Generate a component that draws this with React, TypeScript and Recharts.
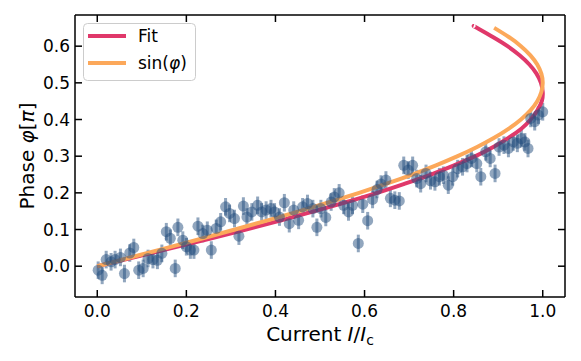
import React from 'react';
import { ComposedChart, Scatter, Line, XAxis, YAxis, ErrorBar, Legend } from 'recharts';

const FONT = '"DejaVu Sans", sans-serif';
const DOT = '#234e7d';
const FIT = '#e0386a';
const SIN = '#fca85a';

const currents = [
  0.002, 0.011, 0.020, 0.031, 0.040, 0.052, 0.061, 0.073, 0.082, 0.093,
  0.103, 0.114, 0.125, 0.135, 0.145, 0.155, 0.164, 0.175, 0.181, 0.192,
  0.200, 0.209, 0.217, 0.226, 0.237, 0.247, 0.256, 0.267, 0.277, 0.288,
  0.297, 0.308, 0.318, 0.328, 0.336, 0.347, 0.360, 0.369, 0.379, 0.390,
  0.398, 0.409, 0.420, 0.431, 0.441, 0.452, 0.461, 0.472, 0.484, 0.493,
  0.502, 0.513, 0.525, 0.532, 0.543, 0.553, 0.564, 0.573, 0.586, 0.596,
  0.607, 0.618, 0.628, 0.637, 0.648, 0.658, 0.668, 0.678, 0.688, 0.698,
  0.708, 0.717, 0.726, 0.738, 0.748, 0.758, 0.768, 0.777, 0.788, 0.798,
  0.809, 0.820, 0.830, 0.840, 0.852, 0.861, 0.872, 0.882, 0.893, 0.902,
  0.913, 0.923, 0.934, 0.943, 0.952, 0.960, 0.967, 0.973, 0.982, 0.990,
  1.000,
];
const phases = [
  -0.011, -0.025, 0.018, 0.012, 0.018, 0.024, -0.020, 0.036, 0.051, -0.011,
  -0.006, 0.021, 0.018, 0.016, 0.035, 0.094, 0.076, -0.006, 0.106, 0.071,
  0.053, 0.044, 0.044, 0.109, 0.089, 0.098, 0.044, 0.103, 0.121, 0.162,
  0.144, 0.130, 0.082, 0.164, 0.134, 0.148, 0.166, 0.148, 0.153, 0.157,
  0.148, 0.134, 0.173, 0.116, 0.153, 0.125, 0.162, 0.171, 0.157, 0.106,
  0.157, 0.133, 0.175, 0.189, 0.200, 0.166, 0.148, 0.166, 0.062, 0.169,
  0.124, 0.182, 0.209, 0.224, 0.235, 0.185, 0.180, 0.178, 0.275, 0.262,
  0.275, 0.239, 0.225, 0.253, 0.233, 0.230, 0.244, 0.248, 0.221, 0.244,
  0.266, 0.271, 0.280, 0.294, 0.280, 0.244, 0.312, 0.294, 0.253, 0.325,
  0.330, 0.321, 0.339, 0.335, 0.348, 0.339, 0.321, 0.403, 0.394, 0.412,
  0.421,
];
const phaseErr = 0.024;

// fit curve (current vs phase)
const fitPhase = [
  0, 0.025, 0.05, 0.075, 0.1, 0.125, 0.15, 0.175, 0.2, 0.225, 0.25, 0.275, 0.3, 0.325,
  0.35, 0.375, 0.4, 0.425, 0.45, 0.475, 0.5, 0.525, 0.55, 0.575, 0.6, 0.625, 0.65, 0.655,
];
const fitCurrent = [
  0, 0.085, 0.169, 0.252, 0.334, 0.413, 0.488, 0.560, 0.628, 0.690, 0.749, 0.801, 0.849, 0.889,
  0.923, 0.952, 0.973, 0.988, 0.998, 1.0, 0.996, 0.986, 0.970, 0.948, 0.921, 0.888, 0.852, 0.845,
];

// sin(phi) curve
const sinPhase = [
  0, 0.025, 0.05, 0.075, 0.1, 0.125, 0.15, 0.175, 0.2, 0.225, 0.25, 0.275, 0.3, 0.325,
  0.35, 0.375, 0.4, 0.425, 0.45, 0.475, 0.5, 0.525, 0.55, 0.575, 0.6, 0.625, 0.65,
];
const sinCurrent = [
  0, 0.0785, 0.1564, 0.2334, 0.309, 0.3827, 0.454, 0.5225, 0.5878, 0.6494, 0.7071, 0.7604, 0.809, 0.8526,
  0.891, 0.9239, 0.9511, 0.9724, 0.9877, 0.9969, 1.0, 0.9969, 0.9877, 0.9724, 0.9511, 0.9239, 0.891,
];

const xTicks = [0, 0.2, 0.4, 0.6, 0.8, 1.0];
const yTicks = [0, 0.1, 0.2, 0.3, 0.4, 0.5, 0.6];

const measured = currents.map((x, i) => ({ x, y: phases[i], err: phaseErr }));
const fitData = fitPhase.map((y, i) => ({ x: fitCurrent[i], y }));
const sinData = sinPhase.map((y, i) => ({ x: sinCurrent[i], y }));

const TICK_LEN = 7;

const BottomTick = (props: any) => {
  const { x, y, payload } = props;
  return (
    <g>
      <line x1={x} y1={y} x2={x} y2={y - TICK_LEN} stroke="#000" strokeWidth={1.5} />
      <text x={x} y={y + 20} textAnchor="middle" fontSize={17} fontFamily={FONT} fill="#000">
        {Number(payload.value).toFixed(1)}
      </text>
    </g>
  );
};

const TopTick = (props: any) => {
  const { x, y } = props;
  return <line x1={x} y1={y} x2={x} y2={y + TICK_LEN} stroke="#000" strokeWidth={1.5} />;
};

const LeftTick = (props: any) => {
  const { x, y, payload } = props;
  return (
    <g>
      <line x1={x} y1={y} x2={x + TICK_LEN} y2={y} stroke="#000" strokeWidth={1.5} />
      <text x={x - 5} y={y + 6} textAnchor="end" fontSize={17} fontFamily={FONT} fill="#000">
        {Number(payload.value).toFixed(1)}
      </text>
    </g>
  );
};

const RightTick = (props: any) => {
  const { x, y } = props;
  return <line x1={x} y1={y} x2={x - TICK_LEN} y2={y} stroke="#000" strokeWidth={1.5} />;
};

const XLabel = () => (
  <text x={320} y={341} textAnchor="middle" fontSize={20} fontFamily={FONT} fill="#000">
    <tspan>Current </tspan>
    <tspan fontStyle="italic">I</tspan>
    <tspan>/</tspan>
    <tspan fontStyle="italic">I</tspan>
    <tspan fontSize={14} dy={4}>c</tspan>
  </text>
);

const YLabel = () => (
  <text
    x={34}
    y={156}
    transform="rotate(-90 34 156)"
    textAnchor="middle"
    fontSize={20}
    fontFamily={FONT}
    fill="#000"
  >
    <tspan>Phase </tspan>
    <tspan fontStyle="italic">φ</tspan>
    <tspan>[</tspan>
    <tspan fontStyle="italic">π</tspan>
    <tspan>]</tspan>
  </text>
);

const LegendBox = () => (
  <svg width={114} height={59} style={{ display: 'block' }}>
    <rect x={0.5} y={0.5} width={112} height={57} rx={4} fill="#fff" fillOpacity={0.8} stroke="#cccccc" />
    <line x1={5} y1={13} x2={43} y2={13} stroke={FIT} strokeWidth={4} />
    <text x={55} y={19} fontSize={17} fontFamily={FONT} fill="#000">Fit</text>
    <line x1={5} y1={40} x2={43} y2={40} stroke={SIN} strokeWidth={4} />
    <text x={55} y={46} fontSize={17} fontFamily={FONT} fill="#000">
      sin(<tspan fontStyle="italic">φ</tspan>)
    </text>
  </svg>
);

const Dot = (props: any) => {
  const { cx, cy } = props;
  if (cx == null || cy == null) return null;
  return <circle cx={cx} cy={cy} r={5.5} fill={DOT} fillOpacity={0.5} />;
};

export default function App() {
  return (
    <div style={{ position: 'absolute', left: 0, top: 0, background: '#fff' }}>
      <ComposedChart width={581} height={361} margin={{ top: 14, right: 15, bottom: 4, left: 0 }}>
        <XAxis
          xAxisId="bottom"
          type="number"
          dataKey="x"
          domain={[-0.05, 1.05]}
          ticks={xTicks}
          allowDataOverflow
          height={60}
          tickSize={0}
          tickMargin={0}
          tickLine={false}
          tick={<BottomTick />}
          axisLine={{ stroke: '#000', strokeWidth: 1.5 }}
          label={<XLabel />}
        />
        <XAxis
          xAxisId="top"
          orientation="top"
          type="number"
          dataKey="x"
          domain={[-0.05, 1.05]}
          ticks={xTicks}
          allowDataOverflow
          height={1}
          tickSize={0}
          tickMargin={0}
          tickLine={false}
          tick={<TopTick />}
          axisLine={{ stroke: '#000', strokeWidth: 1.5 }}
        />
        <YAxis
          yAxisId="left"
          type="number"
          dataKey="y"
          domain={[-0.084, 0.685]}
          ticks={yTicks}
          allowDataOverflow
          width={75}
          tickSize={0}
          tickMargin={0}
          tickLine={false}
          tick={<LeftTick />}
          axisLine={{ stroke: '#000', strokeWidth: 1.5 }}
          label={<YLabel />}
        />
        <YAxis
          yAxisId="right"
          orientation="right"
          type="number"
          dataKey="y"
          domain={[-0.084, 0.685]}
          ticks={yTicks}
          allowDataOverflow
          width={1}
          tickSize={0}
          tickMargin={0}
          tickLine={false}
          tick={<RightTick />}
          axisLine={{ stroke: '#000', strokeWidth: 1.5 }}
        />
        <Scatter
          name="data"
          data={measured}
          xAxisId="bottom"
          yAxisId="left"
          dataKey="y"
          shape={<Dot />}
          isAnimationActive={false}
          legendType="none"
        >
          <ErrorBar
            dataKey="err"
            direction="y"
            width={0}
            stroke={DOT}
            strokeOpacity={0.5}
            strokeWidth={3}
            isAnimationActive={false}
          />
        </Scatter>
        <Line
          name="Fit"
          data={fitData}
          xAxisId="bottom"
          yAxisId="left"
          dataKey="y"
          type="natural"
          stroke={FIT}
          strokeWidth={4}
          dot={false}
          activeDot={false}
          isAnimationActive={false}
        />
        <Line
          name="sin(φ)"
          data={sinData}
          xAxisId="top"
          yAxisId="right"
          dataKey="y"
          type="natural"
          stroke={SIN}
          strokeWidth={4}
          dot={false}
          activeDot={false}
          isAnimationActive={false}
        />
        <Legend
          layout="vertical"
          align="center"
          verticalAlign="middle"
          content={<LegendBox />}
          wrapperStyle={{ left: 83, top: 23, width: 114, height: 59 }}
        />
      </ComposedChart>
    </div>
  );
}
